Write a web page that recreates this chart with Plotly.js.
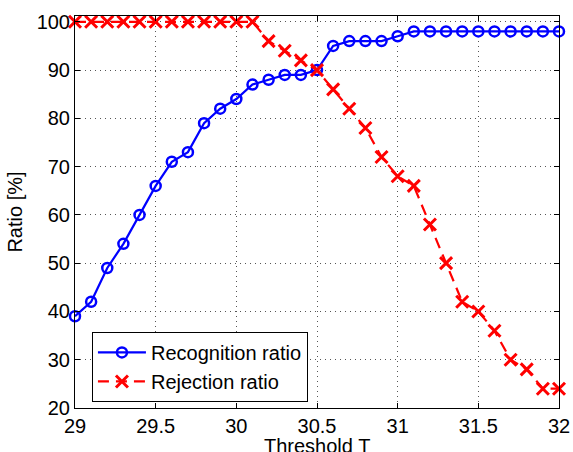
<!DOCTYPE html>
<html>
<head>
<meta charset="utf-8">
<script src="https://cdn.plot.ly/plotly-3.0.1.min.js"></script>
<style>html,body{margin:0;padding:0;background:#fff;}#chart{width:573px;height:452px;}</style>
</head>
<body>
<div id="chart"></div>
<script>
const thresholds = [29.0,29.1,29.2,29.3,29.4,29.5,29.6,29.7,29.8,29.9,30.0,30.1,30.2,30.3,30.4,30.5,30.6,30.7,30.8,30.9,31.0,31.1,31.2,31.3,31.4,31.5,31.6,31.7,31.8,31.9,32.0];
const recognition = [39,42,49,54,60,66,71,73,79,82,84,87,88,89,89,90,95,96,96,96,97,98,98,98,98,98,98,98,98,98,98];
const rejection = [100,100,100,100,100,100,100,100,100,100,100,100,96,94,92,90,86,82,78,72,68,66,58,50,42,40,36,30,28,24,24];
const xTicks = [29,29.5,30,30.5,31,31.5,32];
const xTickText = ['29','29.5','30','30.5','31','31.5','32'];
const yTicks = [20,30,40,50,60,70,80,90,100];
const xTitle = 'Threshold T';
const yTitle = 'Ratio [%]';

const font = {family: 'Liberation Sans, Arial, Helvetica, sans-serif', size: 20, color: '#000'};

const traces = [
  {
    x: thresholds, y: recognition, type: 'scatter', mode: 'lines+markers',
    name: 'Recognition ratio', cliponaxis: false,
    line: {color: '#0000ff', width: 2.2},
    marker: {symbol: 'circle-open', size: 10, color: '#0000ff', line: {color: '#0000ff', width: 2.5}}
  },
  {
    x: thresholds, y: rejection, type: 'scatter', mode: 'lines+markers',
    name: 'Rejection ratio', cliponaxis: false,
    line: {color: '#ff0000', width: 2.2, dash: '11px,7px'},
    marker: {symbol: 'x-thin-open', size: 12, color: '#ff0000', line: {color: '#ff0000', width: 3}}
  }
];

const axisCommon = {
  showline: true, linecolor: '#000', linewidth: 1, mirror: 'ticks',
  ticks: 'inside', ticklen: 5, tickcolor: '#000', tickwidth: 1,
  showgrid: true, gridcolor: '#555', gridwidth: 1, griddash: '1px,4px',
  zeroline: false, tickfont: font
};

const layout = {
  width: 573, height: 452,
  margin: {l: 75, r: 14, t: 16, b: 44},
  paper_bgcolor: '#fff', plot_bgcolor: '#fff',
  font: font,
  showlegend: true,
  legend: {
    x: 0.035, y: 0.194, xanchor: 'left', yanchor: 'top',
    bgcolor: '#fff', bordercolor: '#000', borderwidth: 1,
    font: font, tracegroupgap: 0, itemwidth: 48
  },
  xaxis: Object.assign({}, axisCommon, {
    range: [29, 32], tickvals: xTicks, ticktext: xTickText
  }),
  yaxis: Object.assign({}, axisCommon, {
    range: [20, 101.2], tickvals: yTicks,
    title: {text: yTitle, font: font, standoff: 8}
  }),
  annotations: [{
    text: xTitle, xref: 'paper', yref: 'paper', x: 0.5, y: -0.098,
    xanchor: 'center', yanchor: 'middle', showarrow: false, font: font
  }]
};

Plotly.newPlot('chart', traces, layout, {staticPlot: true, displayModeBar: false});
</script>
</body>
</html>
